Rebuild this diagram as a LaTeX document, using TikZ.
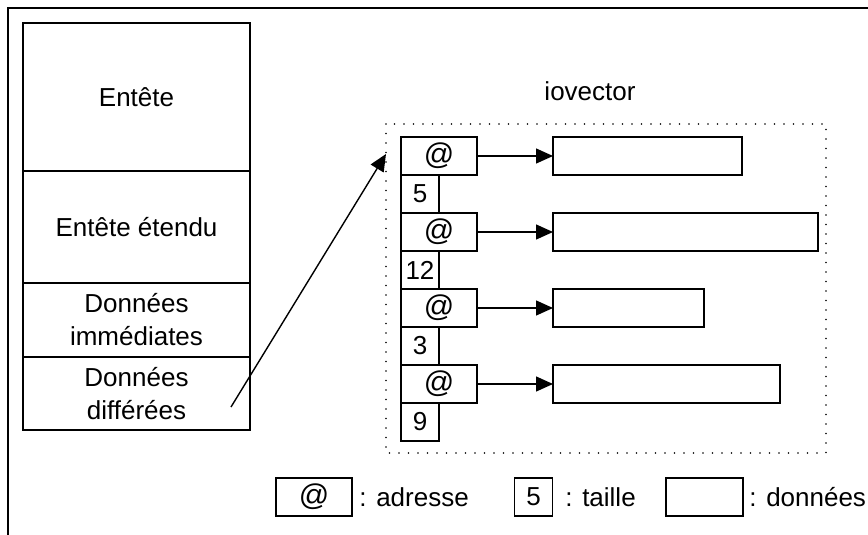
\documentclass[tikz,border=0pt]{standalone}
\usepackage{fontspec}
\setmainfont{Liberation Sans}
\usetikzlibrary{positioning,arrows.meta}

\tikzset{
  box/.style={draw,line width=0.75pt,inner sep=0pt,outer sep=0pt,align=center},
  layer/.style={box,minimum width=113.5pt},
  addrbox/.style={box,minimum width=38pt,minimum height=19pt,font=\fontsize{15}{15}\selectfont},
  sizebox/.style={box,minimum width=19pt,minimum height=19pt},
  databox/.style={box,minimum height=19pt},
  link/.style={line width=0.7pt,-{Triangle[length=8.5pt,width=7.5pt]}},
  vecframe/.style={line width=0.9pt,line cap=round,dash pattern=on 0pt off 4.75pt},
  keytext/.style={anchor=west,inner sep=0pt}
}

\begin{document}
\begin{tikzpicture}[x=0.5pt,y=-0.5pt,font=\fontsize{13}{16.5}\selectfont]
\useasboundingbox (0,0) rectangle (868,535);
\draw[line width=1pt] (7.5,560) |- (890,8);
% message layout
\node[layer,minimum height=74pt,anchor=north west] (hdr) at (23,23) {Entête};
\node[layer,minimum height=56pt,below=0pt of hdr] (exthdr) {Entête étendu};
\node[layer,minimum height=37pt,below=0pt of exthdr] (imm) {Données\\immédiates};
\node[layer,minimum height=36.5pt,below=0pt of imm] (def) {Données\\différées};
% iovector
\node (iovec) at (590,91) {iovector};
\draw[vecframe] (386,124) rectangle (826,453);
\foreach \i/\sz/\w in {1/5/94.5,2/12/132.5,3/3/75.5,4/9/113.5}{
  \node[addrbox] (addr\i) at (439,{80+76*\i}) {@};
  \node[sizebox,anchor=north west] (size\i) at (addr\i.south west) {\sz};
  \node[databox,minimum width=\w pt,anchor=west] (data\i) at (553,{80+76*\i}) {};
  \draw[link] (addr\i) -- (data\i);
}
\coordinate (src) at (231,407);
\coordinate (dst) at (386,154);
\draw[link] (src) -- (dst);
% legend
\node[addrbox] (keyaddr) at (314,497) {@};
\node[keytext] (keyaddrtxt) at (359,497) {: adresse};
\node[sizebox] (keysize) at (533.5,497) {5};
\node[keytext] (keysizetxt) at (565,497) {: taille};
\node[databox,minimum width=38.5pt] (keydata) at (704.5,497) {};
\node[keytext] (keydatatxt) at (749,497) {: données};
\end{tikzpicture}
\end{document}
